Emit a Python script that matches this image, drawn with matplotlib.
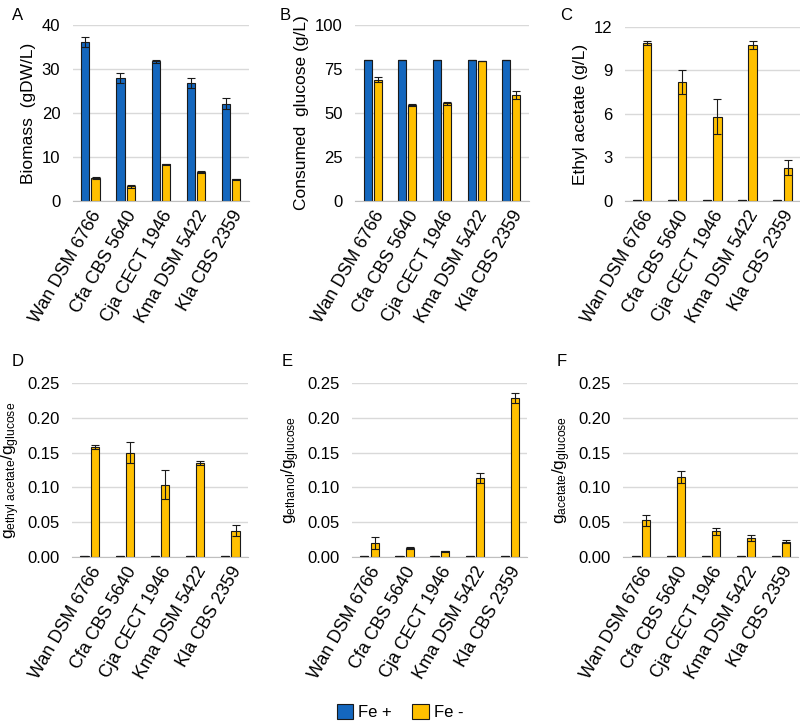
import numpy as np
import matplotlib
matplotlib.use('Agg')
from matplotlib import pyplot as plt
from matplotlib.patches import Patch

plt.rcParams['font.family'] = ['Liberation Sans', 'DejaVu Sans']
plt.rcParams['mathtext.fontset'] = 'custom'
plt.rcParams['mathtext.rm'] = 'Liberation Sans'
plt.rcParams['mathtext.it'] = 'Liberation Sans'
plt.rcParams['font.size'] = 12

strains = ['Wan DSM 6766', 'Cfa CBS 5640', 'Cja CECT 1946', 'Kma DSM 5422', 'Kla CBS 2359']

# A biomass
bio_fe_plus = [36.2, 28.0, 31.7, 26.8, 22.1]
bio_fe_plus_err = [1.1, 1.1, 0.3, 1.1, 1.2]
bio_fe_minus = [5.2, 3.3, 8.3, 6.6, 4.9]
bio_fe_minus_err = [0.2, 0.3, 0.1, 0.2, 0.2]

# B consumed glucose
glc_fe_plus = [80, 80, 80, 80, 80]
glc_fe_plus_err = [0, 0, 0, 0, 0]
glc_fe_minus = [69.0, 54.3, 55.4, 79.3, 60.2]
glc_fe_minus_err = [1.4, 0.6, 1.1, 0.0, 2.3]

# C ethyl acetate
ea_fe_plus = [0.05, 0.1, 0.05, 0.05, 0.05]
ea_fe_plus_err = [0, 0, 0, 0, 0]
ea_fe_minus = [10.9, 8.2, 5.8, 10.75, 2.3]
ea_fe_minus_err = [0.15, 0.8, 1.2, 0.3, 0.5]

# D ethyl acetate yield
yea_fe_plus = [0.0008, 0.002, 0.0008, 0.0008, 0.0008]
yea_fe_plus_err = [0, 0, 0, 0, 0]
yea_fe_minus = [0.158, 0.150, 0.104, 0.135, 0.038]
yea_fe_minus_err = [0.003, 0.015, 0.021, 0.003, 0.008]

# E ethanol yield
yet_fe_plus = [0.0008, 0.0008, 0.0008, 0.0008, 0.002]
yet_fe_plus_err = [0, 0, 0, 0, 0]
yet_fe_minus = [0.020, 0.013, 0.008, 0.114, 0.229]
yet_fe_minus_err = [0.009, 0.002, 0.001, 0.007, 0.007]

# F acetate yield
yac_fe_plus = [0.002, 0.002, 0.002, 0.002, 0.002]
yac_fe_plus_err = [0, 0, 0, 0, 0]
yac_fe_minus = [0.053, 0.115, 0.037, 0.027, 0.022]
yac_fe_minus_err = [0.008, 0.009, 0.005, 0.004, 0.002]

BLUE = '#1467BE'
YELLOW = '#FFC000'

panels = [
    ('A', [0.091, 0.7228, 0.22, 0.2428], bio_fe_plus, bio_fe_plus_err, bio_fe_minus, bio_fe_minus_err,
     40, [0, 10, 20, 30, 40], '%d', 'Biomass  (gDW/L)', (12, 15)),
    ('B', [0.444, 0.7228, 0.217, 0.2428], glc_fe_plus, glc_fe_plus_err, glc_fe_minus, glc_fe_minus_err,
     100, [0, 25, 50, 75, 100], '%d', 'Consumed  glucose (g/L)', (280, 15)),
    ('C', [0.781, 0.7228, 0.219, 0.24], ea_fe_plus, ea_fe_plus_err, ea_fe_minus, ea_fe_minus_err,
     12, [0, 3, 6, 9, 12], '%d', 'Ethyl acetate (g/L)', (560, 15)),
    ('D', [0.09, 0.2317, 0.22, 0.24], yea_fe_plus, yea_fe_plus_err, yea_fe_minus, yea_fe_minus_err,
     0.25, [0, 0.05, 0.10, 0.15, 0.20, 0.25], '%.2f',
     r'$\mathregular{g_{ethyl\ acetate}/g_{glucose}}$', (12, 362)),
    ('E', [0.44, 0.2317, 0.219, 0.24], yet_fe_plus, yet_fe_plus_err, yet_fe_minus, yet_fe_minus_err,
     0.25, [0, 0.05, 0.10, 0.15, 0.20, 0.25], '%.2f',
     r'$\mathregular{g_{ethanol}/g_{glucose}}$', (282, 362)),
    ('F', [0.779, 0.2317, 0.219, 0.24], yac_fe_plus, yac_fe_plus_err, yac_fe_minus, yac_fe_minus_err,
     0.25, [0, 0.05, 0.10, 0.15, 0.20, 0.25], '%.2f',
     r'$\mathregular{g_{acetate}/g_{glucose}}$', (557, 362)),
]

fig = plt.figure(figsize=(8, 7.25), dpi=100)
x = np.arange(len(strains))
w = 0.23
off = 0.145

for letter, pos, p, pe, m, me, ymax, ticks, fmt, ylab, lpos in panels:
    ax = fig.add_axes(pos)
    ax.bar(x - off, p, w, color=BLUE, edgecolor='#1a1a1a', linewidth=0.8, zorder=2)
    ax.bar(x + off, m, w, color=YELLOW, edgecolor='#1a1a1a', linewidth=0.8, zorder=2)
    ax.errorbar(x - off, p, yerr=pe, fmt='none', ecolor='#1a1a1a', elinewidth=0.8, capsize=3, capthick=0.8, zorder=3)
    ax.errorbar(x + off, m, yerr=me, fmt='none', ecolor='#1a1a1a', elinewidth=0.8, capsize=3, capthick=0.8, zorder=3)
    ax.set_xlim(-0.5, len(strains) - 0.5)
    ax.set_ylim(0, ymax)
    ax.set_yticks(ticks)
    ax.set_yticklabels([fmt % t for t in ticks])
    ax.yaxis.grid(True, color='#D9D9D9', linewidth=1.0, zorder=0)
    ax.set_axisbelow(True)
    for s in ['top', 'right', 'left']:
        ax.spines[s].set_visible(False)
    ax.spines['bottom'].set_color('#BFBFBF')
    ax.tick_params(axis='y', length=0, labelsize=12, pad=9)
    ax.tick_params(axis='x', length=0, labelsize=13, pad=5)
    ax.set_xticks(x)
    ax.set_xticklabels(strains, rotation=60, ha='right', rotation_mode='anchor')
    ax.set_ylabel(ylab, fontsize=12.5, labelpad=4)
    fig.text(lpos[0] / 800, 1 - lpos[1] / 725, letter, fontsize=12, va='center', ha='left')

handles = [Patch(facecolor=BLUE, edgecolor='#1a1a1a', linewidth=0.8, label='Fe +'),
           Patch(facecolor=YELLOW, edgecolor='#1a1a1a', linewidth=0.8, label='Fe -')]
fig.legend(handles=handles, loc='center', bbox_to_anchor=(0.5, 1 - 712 / 725), ncol=2, frameon=False,
           fontsize=12, handlelength=1.0, handleheight=1.0, handletextpad=0.3, columnspacing=1.2)

fig.savefig('out.png', dpi=100)
